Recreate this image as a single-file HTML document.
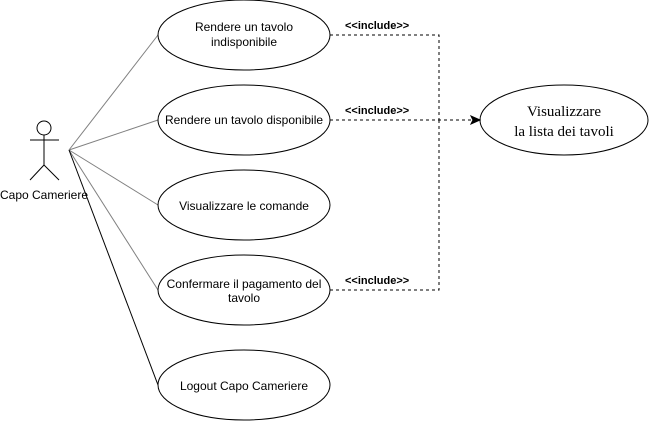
<!DOCTYPE html>
<html><head><meta charset="utf-8"><style>html,body{margin:0;padding:0;background:#fff}svg{display:block}</style></head>
<body>
<svg width="650" height="421" xmlns="http://www.w3.org/2000/svg" font-family="Liberation Sans, sans-serif" font-size="12">
<rect width="650" height="421" fill="#fff"/>
<g stroke="#808080" stroke-width="1" fill="none">
<line x1="69" y1="150" x2="158" y2="35"/>
<line x1="69" y1="150" x2="158" y2="120"/>
<line x1="69" y1="150" x2="158" y2="205"/>
<line x1="69" y1="150" x2="158" y2="290"/>
</g>
<line x1="69" y1="150" x2="158" y2="385" stroke="#000"/>
<g stroke="#000" fill="#fff">
<ellipse cx="244" cy="35" rx="86" ry="35"/>
<ellipse cx="244" cy="120" rx="86" ry="35"/>
<ellipse cx="244" cy="205" rx="86" ry="35"/>
<ellipse cx="244" cy="290" rx="86" ry="35"/>
<ellipse cx="244" cy="385" rx="86" ry="35"/>
<ellipse cx="564" cy="120" rx="84" ry="35"/>
</g>
<g stroke="#000" fill="none">
<circle cx="44" cy="128" r="7"/>
<line x1="44" y1="135" x2="44" y2="165"/>
<line x1="30" y1="140" x2="59" y2="140"/>
<line x1="44" y1="165" x2="30" y2="180"/>
<line x1="44" y1="165" x2="59" y2="180"/>
</g>
<g stroke="#000" fill="none" stroke-dasharray="3,3">
<polyline points="330,35 439,35 439,120"/>
<polyline points="330,290 439,290 439,120"/>
<line x1="330" y1="120" x2="472" y2="120"/>
</g>
<path d="M480,120 L471,116 L473,120 L471,124 Z" fill="#000" stroke="#000"/>
<g text-anchor="middle" fill="#000">
<text x="44" y="199">Capo Cameriere</text>
<text x="244" y="31">Rendere un tavolo</text>
<text x="244" y="46">indisponibile</text>
<text x="244" y="124">Rendere un tavolo disponibile</text>
<text x="244" y="210">Visualizzare le comande</text>
<text x="244" y="288">Confermare il pagamento del</text>
<text x="244" y="302">tavolo</text>
<text x="244" y="390">Logout Capo Camerie­re</text>
<text x="564" y="116" font-family="Liberation Serif, serif" font-size="15">Visualizzare</text>
<text x="564" y="136" font-family="Liberation Serif, serif" font-size="15">la lista dei tavoli</text>
</g>
<g font-size="11" font-weight="bold" fill="#000">
<text x="345" y="29">&lt;&lt;include&gt;&gt;</text>
<text x="345" y="114">&lt;&lt;include&gt;&gt;</text>
<text x="345" y="284">&lt;&lt;include&gt;&gt;</text>
</g>
</svg>
</body></html>
